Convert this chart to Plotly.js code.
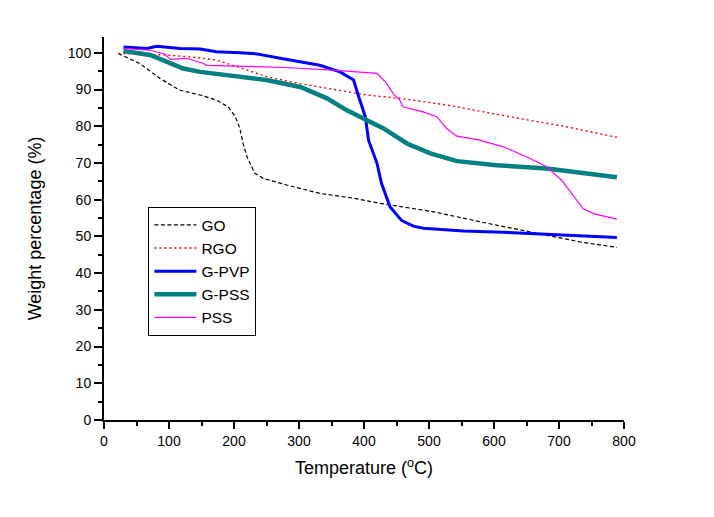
<!DOCTYPE html>
<html>
<head>
<meta charset="utf-8">
<script src="https://cdn.plot.ly/plotly-3.0.1.min.js"></script>
<style>html,body{margin:0;padding:0;background:#fff;}#chart{width:714px;height:517px;}</style>
</head>
<body>
<div id="chart"></div>
<script>
var goT = [22, 55, 86, 117, 148, 173, 191, 202, 209, 214, 220, 232, 245, 281, 332, 384, 425, 507, 578, 655, 732, 789];
var goW = [99.8, 97.1, 93, 89.8, 88.5, 87.1, 85.3, 82.6, 79.4, 75.3, 71.7, 67.2, 65.8, 64, 61.7, 60.4, 59, 56.7, 54, 51.3, 48.5, 47];

var rgoT = [22, 96, 143, 173, 214, 250, 302, 353, 404, 455, 527, 630, 707, 789];
var rgoW = [99.8, 99.4, 98.7, 98, 95.7, 93.5, 91.6, 90, 88.5, 87.6, 85.8, 82.4, 80, 77];

var pvpT = [30, 66, 81, 117, 148, 173, 209, 235, 271, 302, 332, 363, 384, 391, 402, 407, 420, 427, 440, 458, 476, 491, 553, 630, 707, 789];
var pvpW = [101.6, 101.2, 101.8, 101.2, 101, 100.3, 100, 99.7, 98.5, 97.6, 96.6, 94.8, 92.6, 88.5, 82.6, 76.2, 69.9, 64.4, 58.1, 54.3, 52.8, 52.2, 51.5, 51, 50.4, 49.7];

var gpssT = [30, 71, 96, 122, 148, 199, 250, 302, 343, 373, 404, 430, 466, 502, 543, 604, 681, 732, 789];
var gpssW = [100.5, 99.4, 97.6, 95.7, 94.8, 93.7, 92.6, 90.7, 87.6, 84.4, 81.7, 79.4, 75.3, 72.6, 70.5, 69.4, 68.5, 67.3, 66.1];

var pssT = [30, 71, 94, 102, 127, 153, 158, 199, 276, 353, 420, 435, 445, 455, 460, 491, 512, 527, 543, 578, 614, 650, 681, 704, 722, 737, 753, 789];
var pssW = [101.2, 100.7, 99.6, 98.2, 98.5, 97.1, 96.6, 96.4, 96, 95.3, 94.4, 91.6, 88.9, 87.1, 85.3, 83.9, 82.6, 79.4, 77.3, 76.2, 74.4, 71.7, 69, 65.3, 61.2, 57.6, 56.2, 54.7];

var names = ["GO", "RGO", "G-PVP", "G-PSS", "PSS"];

var traces = [
  {x: goT, y: goW, name: names[0], mode: "lines", line: {color: "#000000", width: 1.2, dash: "4px,2.5px"}},
  {x: rgoT, y: rgoW, name: names[1], mode: "lines", line: {color: "#ff0000", width: 1.4, dash: "2px,3px"}},
  {x: pvpT, y: pvpW, name: names[2], mode: "lines", line: {color: "#0000ff", width: 3}},
  {x: gpssT, y: gpssW, name: names[3], mode: "lines", line: {color: "#008080", width: 4.5}},
  {x: pssT, y: pssW, name: names[4], mode: "lines", line: {color: "#ff00ff", width: 1.2}}
];

var font = {family: "Liberation Sans, Arial, sans-serif", color: "#000"};

var layout = {
  width: 714, height: 517,
  margin: {l: 104, r: 90, t: 37, b: 97},
  paper_bgcolor: "#fff", plot_bgcolor: "#fff",
  font: font,
  showlegend: true,
  legend: {
    x: 0.085, y: 0.556, xanchor: "left", yanchor: "top",
    bordercolor: "#000", borderwidth: 1.2, bgcolor: "#fff",
    font: {family: font.family, size: 15.5, color: "#000"},
    tracegroupgap: 0, itemwidth: 42
  },
  xaxis: {
    range: [0, 800], dtick: 100, tick0: 0,
    showgrid: false, zeroline: false,
    showline: true, linecolor: "#000", linewidth: 2,
    ticks: "outside", ticklen: 7, tickwidth: 2, tickcolor: "#000",
    minor: {dtick: 50, ticks: "outside", ticklen: 4, tickwidth: 2, tickcolor: "#000", showgrid: false},
    tickfont: {family: font.family, size: 14, color: "#000"},
    title: {text: "Temperature (<sup>o</sup>C)", font: {family: font.family, size: 18, color: "#000"}, standoff: 14}
  },
  yaxis: {
    range: [0, 104.3], dtick: 10, tick0: 0,
    showgrid: false, zeroline: false,
    showline: true, linecolor: "#000", linewidth: 2,
    ticks: "outside", ticklen: 8, tickwidth: 2, tickcolor: "#000",
    minor: {dtick: 5, ticks: "outside", ticklen: 4, tickwidth: 2, tickcolor: "#000", showgrid: false},
    tickfont: {family: font.family, size: 14, color: "#000"},
    title: {text: "Weight percentage (%)", font: {family: font.family, size: 18, color: "#000"}, standoff: 22}
  }
};

Plotly.newPlot("chart", traces, layout, {displayModeBar: false, staticPlot: true});
</script>
</body>
</html>
